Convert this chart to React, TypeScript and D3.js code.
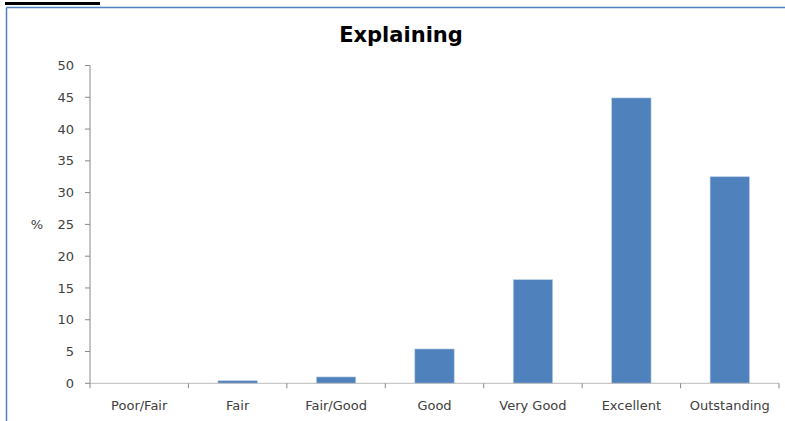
import React from "react";
import * as d3 from "d3";

const categories = ["Poor/Fair", "Fair", "Fair/Good", "Good", "Very Good", "Excellent", "Outstanding"];
const percentages = [0, 0.4, 1.0, 5.4, 16.3, 44.9, 32.5];
const yTicks = [0, 5, 10, 15, 20, 25, 30, 35, 40, 45, 50];
const title = "Explaining";
const yLabel = "%";

const W = 785;
const H = 421;
const plot = { left: 90, right: 779, top: 65.5, bottom: 383.3 };
const font = "'DejaVu Sans', Verdana, sans-serif";

export default function App() {
  const x = d3
    .scaleBand<string>()
    .domain(categories)
    .range([plot.left, plot.right])
    .paddingInner(0.6)
    .paddingOuter(0.3);
  const band = d3.scaleBand<string>().domain(categories).range([plot.left, plot.right]);
  const y = d3.scaleLinear().domain([0, 50]).range([plot.bottom, plot.top]);

  return (
    <svg
      width={W}
      height={H}
      style={{ position: "absolute", left: 0, top: 0, background: "#fff" }}
    >
      <rect x={0} y={0} width={W} height={H} fill="#fff" />
      {/* header rule */}
      <rect x={5} y={2} width={95} height={3} fill="#000" />
      {/* frame */}
      <line x1={6.5} y1={7.5} x2={W} y2={7.5} stroke="#4F81BD" strokeWidth={1.5} />
      <line x1={6.5} y1={7.5} x2={6.5} y2={H} stroke="#4F81BD" strokeWidth={1.5} />

      <text
        x={401}
        y={42}
        textAnchor="middle"
        fontFamily={font}
        fontWeight={700}
        fontSize={21}
        fill="#000"
      >
        {title}
      </text>

      {/* y axis */}
      <line x1={plot.left} y1={plot.top} x2={plot.left} y2={plot.bottom} stroke="#888" strokeWidth={1} />
      {yTicks.map((t) => (
        <g key={t}>
          <line x1={plot.left - 5} x2={plot.left} y1={y(t)} y2={y(t)} stroke="#888" />
          <text
            x={74}
            y={y(t)}
            dy="0.35em"
            textAnchor="end"
            fontFamily={font}
            fontSize={13}
            fill="#404040"
          >
            {t}
          </text>
        </g>
      ))}
      <text x={37} y={y(25)} dy="0.35em" textAnchor="middle" fontFamily={font} fontSize={13} fill="#404040">
        {yLabel}
      </text>

      {/* bars */}
      {categories.map((c, i) => (
        <rect
          key={c}
          x={x(c)}
          y={y(percentages[i])}
          width={x.bandwidth()}
          height={plot.bottom - y(percentages[i])}
          fill="#4F81BD"
          stroke="#B9CDE5"
          strokeWidth={0.6}
        />
      ))}

      {/* x axis */}
      <line x1={plot.left} x2={plot.right} y1={plot.bottom} y2={plot.bottom} stroke="#bbb" strokeWidth={1} />
      {categories.map((c) => (
        <line
          key={"t" + c}
          x1={(band(c) as number) + band.bandwidth()}
          x2={(band(c) as number) + band.bandwidth()}
          y1={plot.bottom}
          y2={plot.bottom + 5}
          stroke="#888"
        />
      ))}
      <line x1={plot.left} x2={plot.left} y1={plot.bottom} y2={plot.bottom + 5} stroke="#888" />
      {categories.map((c) => (
        <text
          key={"l" + c}
          x={(band(c) as number) + band.bandwidth() / 2}
          y={405}
          dy="0.35em"
          textAnchor="middle"
          fontFamily={font}
          fontSize={13}
          fill="#404040"
        >
          {c}
        </text>
      ))}
    </svg>
  );
}
